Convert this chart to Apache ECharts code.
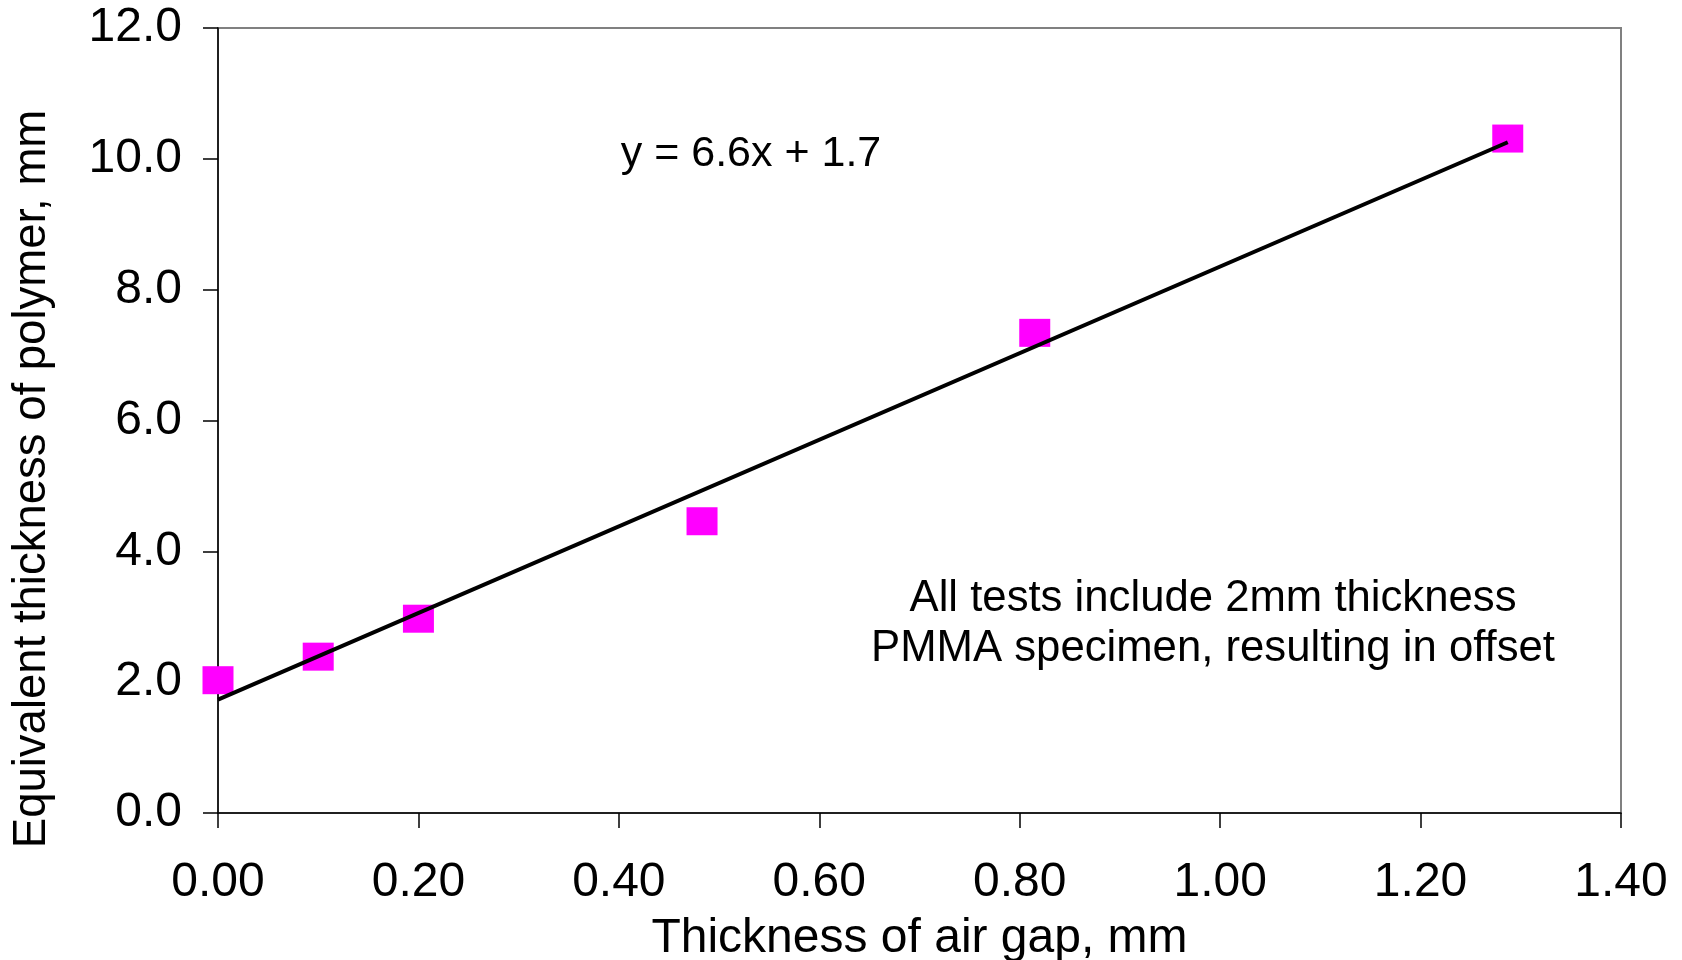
<!DOCTYPE html>
<html>
<head>
<meta charset="utf-8">
<script src="https://cdn.jsdelivr.net/npm/echarts@6/dist/echarts.min.js"></script>
<style>
  html, body { margin: 0; padding: 0; background: #fff; }
  #container { width: 1682px; height: 960px; }
</style>
</head>
<body>
<div id="container"></div>
<script>
// measured points
var airGap = [0.00, 0.10, 0.20, 0.483, 0.815, 1.287];
var polyThick = [2.03, 2.39, 2.97, 4.46, 7.34, 10.31];

var xTicks = { min: 0, max: 1.4, step: 0.2 };
var yTicks = { min: 0, max: 12, step: 2 };

var eqText = 'y = 6.6x + 1.7';
var noteLines = ['All tests include 2mm thickness', 'PMMA specimen, resulting in offset'];

var font = "'Liberation Sans', Arial, sans-serif";

// least squares fit for the trend line
function fitLine(xs, ys) {
    var n = xs.length, sx = 0, sy = 0, sxx = 0, sxy = 0;
    for (var i = 0; i < n; i++) {
        sx += xs[i]; sy += ys[i];
        sxx += xs[i] * xs[i]; sxy += xs[i] * ys[i];
    }
    var b = (n * sxy - sx * sy) / (n * sxx - sx * sx);
    var a = (sy - b * sx) / n;
    return { slope: b, icpt: a };
}

var fit = fitLine(airGap, polyThick);
var xLo = Math.min.apply(null, airGap), xHi = Math.max.apply(null, airGap);
var trend = [[xLo, fit.icpt + fit.slope * xLo], [xHi, fit.icpt + fit.slope * xHi]];

var pts = [];
for (var i = 0; i < airGap.length; i++) {
    pts.push([airGap[i], polyThick[i]]);
}

var myChart = echarts.init(document.getElementById('container'));
var option = {
    backgroundColor: '#fff',
    animation: false,
    grid: {
        left: 218, top: 28, right: 61, bottom: 147,
        outerBoundsMode: 'none',
        containLabel: false,
        show: true, borderColor: '#808080', borderWidth: 2, backgroundColor: 'transparent'
    },
    xAxis: {
        type: 'value',
        min: xTicks.min, max: xTicks.max, interval: xTicks.step,
        name: 'Thickness of air gap, mm',
        nameLocation: 'middle',
        nameGap: 102,
        nameTextStyle: { fontFamily: font, fontSize: 48, color: '#000' },
        axisLine: { show: true, onZero: false, lineStyle: { color: '#000', width: 1.5 } },
        axisTick: { show: true, inside: false, length: 15, lineStyle: { color: '#000', width: 1.5 } },
        axisLabel: {
            margin: 46, fontFamily: font, fontSize: 48, color: '#000',
            formatter: function (v) { return v.toFixed(2); }
        },
        splitLine: { show: false }
    },
    yAxis: {
        type: 'value',
        min: yTicks.min, max: yTicks.max, interval: yTicks.step,
        axisLine: { show: true, onZero: false, lineStyle: { color: '#000', width: 1.5 } },
        axisTick: { show: true, inside: false, length: 15, lineStyle: { color: '#000', width: 1.5 } },
        axisLabel: {
            margin: 36, fontFamily: font, fontSize: 48, color: '#000',
            formatter: function (v) { return v.toFixed(1); }
        },
        splitLine: { show: false }
    },
    series: [
        {
            type: 'scatter',
            data: pts,
            symbol: 'rect',
            symbolSize: [31, 28],
            itemStyle: { color: '#ff00ff', opacity: 1 },
            z: 2
        },
        {
            type: 'line',
            data: trend,
            showSymbol: false,
            lineStyle: { color: '#000', width: 4 },
            z: 3
        }
    ],
    graphic: [
        {
            type: 'text', x: 32, y: 479, rotation: Math.PI / 2,
            style: {
                text: 'Equivalent thickness of polymer, mm',
                fontFamily: font, fontSize: 45.5, fill: '#000',
                align: 'center', verticalAlign: 'middle'
            }
        },
        {
            type: 'text', x: 751, y: 154,
            style: {
                text: eqText, fontFamily: font, fontSize: 43, fill: '#000',
                align: 'center', verticalAlign: 'middle'
            }
        },
        {
            type: 'text', x: 1213, y: 599,
            style: {
                text: noteLines[0], fontFamily: font, fontSize: 43.7, fill: '#000',
                align: 'center', verticalAlign: 'middle'
            }
        },
        {
            type: 'text', x: 1213, y: 649,
            style: {
                text: noteLines[1], fontFamily: font, fontSize: 43.7, fill: '#000',
                align: 'center', verticalAlign: 'middle'
            }
        }
    ]
};

if (option && typeof option === "object") {
    myChart.setOption(option, true);
}
</script>
</body>
</html>
